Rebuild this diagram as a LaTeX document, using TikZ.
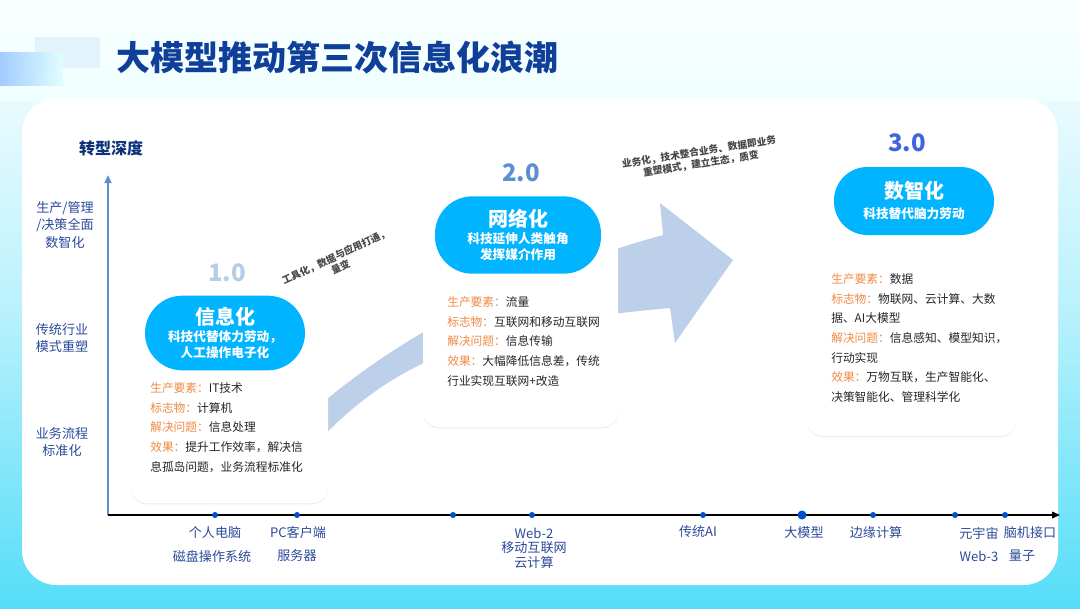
\documentclass[tikz,border=0pt]{standalone}
\usepackage{fontspec}
\setmainfont{Noto Sans CJK SC}
\usetikzlibrary{shadows,arrows.meta}
\definecolor{titleblue}{HTML}{0F3F99}
\definecolor{pillblue}{HTML}{00B4FF}
\definecolor{axblue}{HTML}{5B8FD0}
\definecolor{lblblue}{HTML}{2B4A9A}
\definecolor{band}{HTML}{BDD0EA}
\definecolor{orangek}{HTML}{F08A45}
\definecolor{txt}{HTML}{262626}
\definecolor{bgcyan}{HTML}{55DDF8}
\definecolor{decol}{HTML}{E3F3FC}
\tikzset{
 card/.style={fill=white,rounded corners=12pt,drop shadow={shadow xshift=0pt,shadow yshift=-1pt,opacity=0.12,fill=gray}},
 pill/.style={fill=pillblue,rounded corners=28pt,text=white,align=center,inner sep=0pt,font=\bfseries},
 dot/.style={circle,fill=blue!60!cyan!80!black,inner sep=1.6pt},
 xl/.style={text=lblblue,font=\fontsize{9.8}{12}\selectfont},
 yl/.style={text=lblblue,font=\fontsize{9.8}{13}\selectfont,align=center},
 ct/.style={anchor=west,text=txt,font=\fontsize{8.8}{11}\selectfont,inner sep=0pt},
 rot/.style={text=txt!85,font=\bfseries\fontsize{7.3}{9}\selectfont,align=center,inner sep=0pt},
 ver/.style={font=\bfseries\fontsize{18}{20}\selectfont}
}
\newcommand{\kk}[1]{\textcolor{orangek}{#1}}
\newcommand{\pbig}{\fontsize{15}{17}\selectfont}
\newcommand{\psml}{\fontsize{9.5}{12}\selectfont}
\begin{document}
\begin{tikzpicture}[x=0.75pt,y=-0.75pt]
\useasboundingbox (0,0) rectangle (1080,608);
\shade[top color=white,bottom color=bgcyan,middle color=white!60!bgcyan] (0,0) rectangle (1080,608);
\shade[top color=white!98!cyan,bottom color=white!94!cyan] (0,0) rectangle (1080,100);
\fill[decol] (35,37) rectangle (100,68);
\shade[left color=cyan!45!blue!40,right color=cyan!12,opacity=0.9] (0,52) rectangle (63,85);
\node[anchor=west,text=titleblue,font=\bfseries\fontsize{25.5}{27}\selectfont] (title) at (112,58) {大模型推动第三次信息化浪潮};
\fill[white,rounded corners=26pt] (22,98) rectangle (1058,585);
% band arrow
\fill[band] (250,470) .. controls (330,390) and (430,300) .. (663,235) -- (660,203) -- (733,260) -- (675,343) -- (670,308) .. controls (480,325) and (370,360) .. (280,490) -- cycle;
% axes
\coordinate (o) at (108,515);
\coordinate (yt) at (108,175);
\coordinate (xe) at (1060,515);
\draw[axblue,line width=1.5pt,-{Triangle[length=6pt,width=5pt]}] (o) -- (yt);
\draw[black,line width=1.2pt,-{Triangle[length=6pt,width=5pt]}] (o) -- (xe);
\node[text=titleblue!80!black,font=\bfseries\fontsize{12}{14}\selectfont] (yt1) at (111,148) {转型深度};
\node[yl] (y1) at (65,225) {生产/管理\\/决策全面\\数智化};
\node[yl] (y2) at (62,338) {传统行业\\模式重塑};
\node[yl] (y3) at (62,442) {业务流程\\标准化};
% dots
\foreach \x/\n in {215/d1,297/d2,453/d3,532/d4,703/d5,873/d7,955/d8,1005/d9}{\node[dot] (\n) at (\x,515) {};}
\node[dot,inner sep=2.4pt] (d6) at (802,515) {};
\node[xl] (a1) at (215,533) {个人电脑};
\node[xl] (a2) at (212,556) {磁盘操作系统};
\node[xl] (a3) at (298,533) {PC客户端};
\node[xl] (a4) at (297,556) {服务器};
\node[xl,align=center,font=\fontsize{9.8}{11}\selectfont] (a5) at (534,548) {Web-2\\移动互联网\\云计算};
\node[xl] (a6) at (698,531) {传统AI};
\node[xl] (a7) at (804,533) {大模型};
\node[xl] (a8) at (876,533) {边缘计算};
\node[xl] (a9) at (979,533) {元宇宙};
\node[xl] (a10) at (979,556) {Web-3};
\node[xl] (a11) at (1030,533) {脑机接口};
\node[xl] (a12) at (1022,556) {量子};
% rotated
\node[rot,rotate=25] (r1) at (338,262) {工具化，数据与应用打通，\\量变};
\node[rot,rotate=9] (r2) at (700,158) {业务化，技术整合业务、数据即业务\\重塑模式，建立生态，质变};
% versions
\node[ver,text=axblue!45] (v1) at (227,273) {1.0};
\node[ver,text=axblue] (v2) at (521,173) {2.0};
\node[ver,text=axblue!70!blue] (v3) at (907,143) {3.0};
% cards
\fill[card] (131,352) rectangle (328,503);
\fill[card] (423,200) rectangle (618,427);
\fill[card] (807,200) rectangle (1016,436);
\node[pill,minimum width=120pt,minimum height=56pt] (p1) at (225,333) {\pbig 信息化\\[1pt]\psml 科技代替体力劳动，\\\psml 人工操作电子化};
\node[pill,minimum width=124.5pt,minimum height=58pt] (p2) at (518,235) {\pbig 网络化\\[1pt]\psml 科技延伸人类触角\\\psml 发挥媒介作用};
\node[pill,minimum width=120pt,minimum height=51pt,rounded corners=25pt] (p3) at (914,201) {\pbig 数智化\\[3pt]\psml 科技替代脑力劳动};
% card texts
\node[ct] (c11) at (150,388) {\kk{生产要素：}IT技术};
\node[ct] (c12) at (150,408) {\kk{标志物：}计算机};
\node[ct] (c13) at (150,427) {\kk{解决问题：}信息处理};
\node[ct] (c14) at (150,447) {\kk{效果：}提升工作效率，解决信};
\node[ct] (c15) at (150,467) {息孤岛问题，业务流程标准化};
\node[ct] (c21) at (447,302) {\kk{生产要素：}流量};
\node[ct] (c22) at (447,322) {\kk{标志物：}互联网和移动互联网};
\node[ct] (c23) at (447,341) {\kk{解决问题：}信息传输};
\node[ct] (c24) at (447,361) {\kk{效果：}大幅降低信息差，传统};
\node[ct] (c25) at (447,381) {行业实现互联网+改造};
\node[ct] (c31) at (831,279) {\kk{生产要素：}数据};
\node[ct] (c32) at (831,299) {\kk{标志物：}物联网、云计算、大数};
\node[ct] (c33) at (831,318) {据、AI大模型};
\node[ct] (c34) at (831,338) {\kk{解决问题：}信息感知、模型知识，};
\node[ct] (c35) at (831,358) {行动实现};
\node[ct] (c36) at (831,377) {\kk{效果：}万物互联，生产智能化、};
\node[ct] (c37) at (831,397) {决策智能化、管理科学化};
\end{tikzpicture}
\end{document}
